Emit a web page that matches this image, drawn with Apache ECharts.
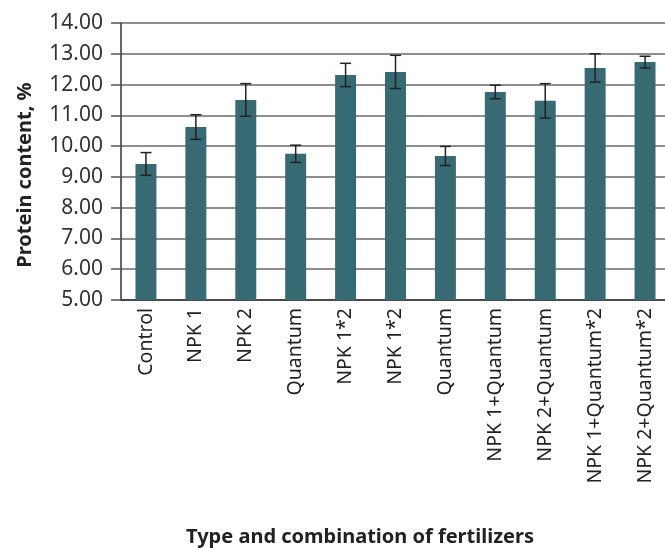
<!DOCTYPE html>
<html>
<head>
<meta charset="utf-8">
<script src="https://cdn.jsdelivr.net/npm/echarts@6/dist/echarts.min.js"></script>
<style>html,body{margin:0;padding:0;background:#fff}#c{width:665px;height:548px}</style>
</head>
<body>
<div id="c"></div>
<script>
const categories = ['Control','NPK 1','NPK 2','Quantum','NPK 1*2','NPK 1*2','Quantum','NPK 1+Quantum','NPK 2+Quantum','NPK 1+Quantum*2','NPK 2+Quantum*2'];
const values = [9.42, 10.62, 11.50, 9.75, 12.31, 12.41, 9.68, 11.76, 11.47, 12.54, 12.73];
const errors = [0.37, 0.40, 0.53, 0.28, 0.38, 0.54, 0.31, 0.22, 0.56, 0.46, 0.19];
const yTicks = [5,6,7,8,9,10,11,12,13,14];

const chart = echarts.init(document.getElementById('c'));
const font = '"Noto Sans", "Open Sans", sans-serif';
chart.setOption({
  animation: false,
  grid: { left: 121, top: 23, height: 277, width: 549, containLabel: false, outerBoundsMode: 'none' },
  xAxis: {
    type: 'category',
    data: categories,
    axisLine: { lineStyle: { color: '#333', width: 1.5 } },
    axisTick: { show: false },
    axisLabel: { rotate: 90, fontSize: 19.5, color: '#222', fontFamily: font, margin: 8 }
  },
  yAxis: {
    type: 'value',
    min: yTicks[0], max: yTicks[yTicks.length-1], interval: 1,
    axisLine: { show: true, lineStyle: { color: '#333', width: 1.5 } },
    axisTick: { show: true, length: 10, lineStyle: { color: '#555', width: 1.5 } },
    splitLine: { lineStyle: { color: '#6a6a6a', width: 1.5 } },
    axisLabel: { fontSize: 21, color: '#333', fontFamily: font, margin: 18,
      formatter: v => v.toFixed(2) }
  },
  graphic: [
    { type: 'text', x: 25, y: 175, rotation: Math.PI/2, style: { text: 'Protein content, %', fontSize: 20, fontWeight: 'bold', fill: '#222', fontFamily: font, align: 'center', verticalAlign: 'middle' } },
    { type: 'text', x: 360, y: 537, style: { text: 'Type and combination of fertilizers', fontSize: 20, fontWeight: 'bold', fill: '#222', fontFamily: font, align: 'center', verticalAlign: 'middle' } }
  ],
  series: [
    { type: 'bar', data: values, barWidth: '42%', itemStyle: { color: '#376a73' } },
    { type: 'custom', data: values.map((v,i)=>[i, v-errors[i], v+errors[i]]),
      renderItem: function(params, api) {
        const lo = api.coord([api.value(0), api.value(1)]);
        const hi = api.coord([api.value(0), api.value(2)]);
        const w = 5.5;
        const st = { stroke: '#222', lineWidth: 1.5 };
        return { type: 'group', children: [
          { type: 'line', shape: { x1: hi[0], y1: hi[1], x2: lo[0], y2: lo[1] }, style: st },
          { type: 'line', shape: { x1: hi[0]-w, y1: hi[1], x2: hi[0]+w, y2: hi[1] }, style: st },
          { type: 'line', shape: { x1: lo[0]-w, y1: lo[1], x2: lo[0]+w, y2: lo[1] }, style: st }
        ]};
      }, z: 10 }
  ]
});
</script>
</body>
</html>
